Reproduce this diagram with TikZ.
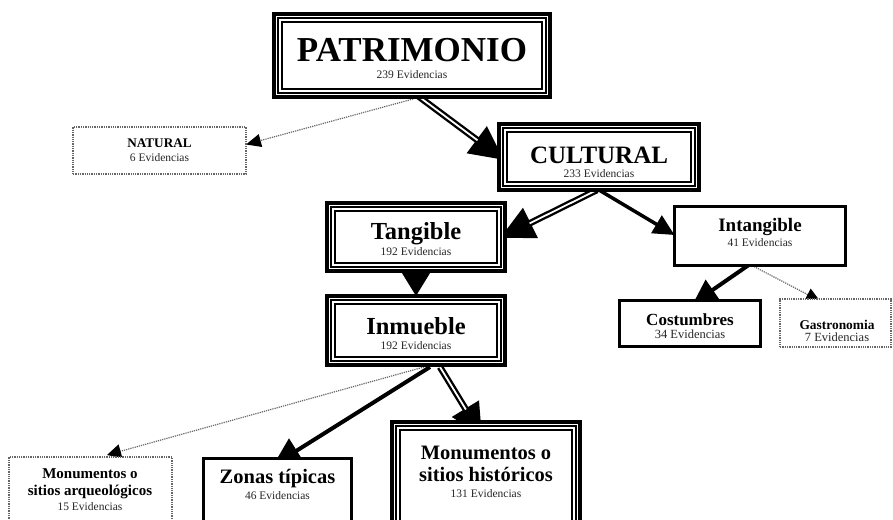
\documentclass[tikz,border=0pt]{standalone}
\usepackage{fontspec}
\setmainfont{Liberation Serif}
\usetikzlibrary{arrows.meta,backgrounds}
\newcommand\tribox[1]{%
  \draw[line width=3.6pt] ([shift={(1.8pt,-1.8pt)}]#1.north west) rectangle ([shift={(-1.8pt,1.8pt)}]#1.south east);
  \draw[line width=2pt] ([shift={(6pt,-6pt)}]#1.north west) rectangle ([shift={(-6pt,6pt)}]#1.south east);
  \draw[line width=2.6pt] ([shift={(10.1pt,-10.1pt)}]#1.north west) rectangle ([shift={(-10.1pt,10.1pt)}]#1.south east);}
\newcommand\fs[1]{\fontsize{#1}{#1}\selectfont}
\tikzset{
  box/.style={rectangle, inner sep=0pt, outer sep=0pt, fill=white},
  tri/.style={box},
  single/.style={box, draw, line width=3pt},
  dotbox/.style={box, draw=black!60, densely dotted, line width=1.3pt},
  ttl/.style={anchor=base, inner sep=0pt, font=\bfseries},
  ev/.style={anchor=base, inner sep=0pt, font=\fs{11.5}, text=black!85},
  trarr/.style={line width=6.5pt, postaction={draw=white, line width=1.8pt, arrows=-, shorten >=#1}},
  thkarr/.style={line width=#1},
  dotarr/.style={draw=black!60, densely dotted, line width=1.2pt}
}
\begin{document}
\begin{tikzpicture}[x=1pt,y=-1pt]
\useasboundingbox (0,0) rectangle (893,519);
\clip (0,0) rectangle (893,519);
% boxes
\node[tri, minimum width=280pt, minimum height=87pt] (pat) at (412,55.5) {};
\node[dotbox, minimum width=173pt, minimum height=47pt] (nat) at (159.5,150.5) {};
\node[tri, minimum width=204pt, minimum height=70pt] (cul) at (599,157) {};
\node[tri, minimum width=182pt, minimum height=72pt] (tang) at (416,237) {};
\node[tri, minimum width=182pt, minimum height=73pt] (inm) at (416,330.5) {};
\node[single, minimum width=171pt, minimum height=59pt] (int) at (760,236) {};
\node[single, minimum width=141pt, minimum height=46pt] (cos) at (690,323.5) {};
\node[dotbox, minimum width=111pt, minimum height=48pt] (gas) at (835.5,323) {};
\node[dotbox, minimum width=163pt, minimum height=83pt] (arq) at (90.5,498.5) {};
\node[single, minimum width=148pt, minimum height=80pt] (zon) at (277.5,498.5) {};
\node[tri, minimum width=192pt, minimum height=120pt] (his) at (486,480) {};
\tribox{pat}\tribox{cul}\tribox{tang}\tribox{inm}\tribox{his}
% texts
\node[ttl, font=\bfseries\fs{35}] (patT) at (412,62) {PATRIMONIO};
\node[ev] (patE) at (412,78) {239 Evidencias};
\node[ttl, font=\bfseries\fs{13.2}] (natT) at (159.5,147) {NATURAL};
\node[ev] (natE) at (159.5,161) {6 Evidencias};
\node[ttl, font=\bfseries\fs{25}] (culT) at (599,163) {CULTURAL};
\node[ev] (culE) at (599,177.5) {233 Evidencias};
\node[ttl, font=\bfseries\fs{24.5}] (tangT) at (416,239.5) {Tangible};
\node[ev] (tangE) at (416,255) {192 Evidencias};
\node[ttl, font=\bfseries\fs{24.5}] (inmT) at (416,334) {Inmueble};
\node[ev] (inmE) at (416,349) {192 Evidencias};
\node[ttl, font=\bfseries\fs{19}] (intT) at (760,231.5) {Intangible};
\node[ev] (intE) at (760,246) {41 Evidencias};
\node[ttl, font=\bfseries\fs{17}] (cosT) at (690,325) {Costumbres};
\node[ev, font=\fs{12.5}] (cosE) at (690,338) {34 Evidencias};
\node[ttl, font=\bfseries\fs{13.4}] (gasT) at (837,329) {Gastronomia};
\node[ev, font=\fs{12.5}] (gasE) at (837,341.5) {7 Evidencias};
\node[ttl, font=\bfseries\fs{15}] (arqT1) at (90,478.3) {Monumentos o};
\node[ttl, font=\bfseries\fs{15}] (arqT2) at (90,495.5) {sitios arqueológicos};
\node[ev] (arqE) at (90,510) {15 Evidencias};
\node[ttl, font=\bfseries\fs{20.5}] (zonT) at (277.5,483.3) {Zonas típicas};
\node[ev] (zonE) at (277.5,499) {46 Evidencias};
\node[ttl, font=\bfseries\fs{20.5}] (hisT1) at (486,459.3) {Monumentos o};
\node[ttl, font=\bfseries\fs{20.5}] (hisT2) at (486,481) {sitios históricos};
\node[ev] (hisE) at (486,497.3) {131 Evidencias};
% connectors
\begin{scope}[on background layer]
\draw[dotarr, -{Triangle[length=15pt,width=13pt,color=black]}] ([xshift=1pt]pat.south) -- ([yshift=6pt]nat.east);
\draw[trarr=33pt, -{Triangle[length=34pt,width=32pt]}] ([xshift=6pt,yshift=3pt]pat.south) -- ([xshift=7pt,yshift=-3pt]cul.west);
\draw[trarr=33pt, -{Triangle[length=34pt,width=32pt]}] ([xshift=-2pt,yshift=2pt]cul.south) -- ([xshift=-7pt,yshift=-1pt]tang.east);
\draw[thkarr=3.5pt, -{Triangle[length=21pt,width=20pt]}] ([yshift=2pt]cul.south) -- ([yshift=1pt]int.west);
\draw[thkarr=3pt, -{Triangle[length=26pt,width=31pt]}] (tang.south) -- ([yshift=-2pt]inm.north);
\draw[dotarr, -{Triangle[length=14pt,width=14pt,color=black]}] ([xshift=8pt]inm.south) -- ([xshift=16.5pt,yshift=2pt]arq.north);
\draw[thkarr=4pt, -{Triangle[length=28pt,width=28pt]}] ([xshift=14pt]inm.south) -- ([xshift=-4.5pt,yshift=-7pt]zon.north);
\draw[trarr=31pt, -{Triangle[length=32pt,width=30pt]}] ([xshift=24pt]inm.south) -- ([xshift=-4pt,yshift=-16pt]his.north);
\draw[thkarr=4pt, -{Triangle[length=24pt,width=24pt]}] ([xshift=-12pt]int.south) -- ([xshift=3pt,yshift=-3pt]cos.north);
\draw[dotarr, -{Triangle[length=14pt,width=13pt,color=black]}] ([xshift=-8pt]int.south) -- ([xshift=-15.5pt,yshift=-2pt]gas.north);
\end{scope}
\end{tikzpicture}
\end{document}
